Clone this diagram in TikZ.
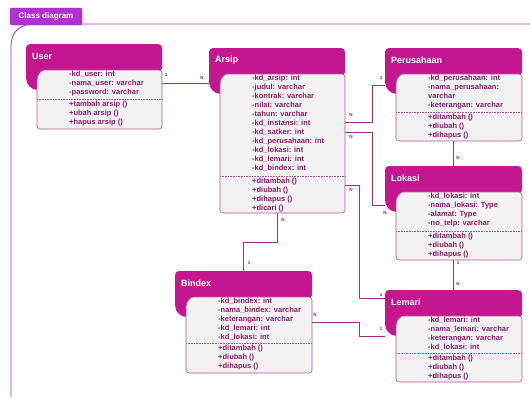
\documentclass[tikz,border=0pt]{standalone}
\usepackage{fontspec}
\setmainfont{Liberation Sans}
\usepackage{tikz}

\definecolor{framecol}{RGB}{155,48,192}
\definecolor{tabcol}{RGB}{178,47,210}
\definecolor{headcol}{RGB}{195,22,143}
\definecolor{bodycol}{RGB}{242,242,242}
\definecolor{edgecol}{RGB}{176,85,150}
\definecolor{txtcol}{RGB}{139,26,107}
\definecolor{linecol}{RGB}{165,45,135}

\tikzset{
  classhead/.style={fill=headcol},
  classbody/.style={fill=bodycol, draw=edgecol, line width=0.6pt},
  attrtext/.style={anchor=north west, inner sep=0pt, align=left, text=txtcol, font=\fontsize{7.5}{9}\selectfont\bfseries},
  titletext/.style={anchor=west, inner sep=0pt, text=white, font=\fontsize{9}{10}\selectfont\bfseries},
  tabtext/.style={inner sep=0pt, text=white, font=\fontsize{8}{9}\selectfont\bfseries},
  relline/.style={draw=linecol, line width=0.7pt},
  multlabel/.style={inner sep=0pt, text=txtcol, font=\fontsize{4.5}{5}\selectfont\bfseries},
}

% #1 name, #2 x0, #3 y0, #4 x1, #5 bottom, #6 separator, #7 title, #8 attributes, #9 methods
\newcommand{\umlclass}[9]{
  \node [minimum width={(#4-#2)*1pt}, minimum height={(#5-#3)*1pt}, inner sep=0pt, outer sep=0pt] (#1) at ({(#2+#4)/2},{(#3+#5)/2}) {};
  \fill [classhead, rounded corners=4pt] (#2,#3) rectangle (#4,#3+28);
  \fill [classhead, rounded corners=12pt] (#2,#3+10) rectangle (#2+26,#3+46);
  \filldraw [classbody, rounded corners=3pt] (#2+11,#3+36) -- (#2+11,#5) -- (#4,#5) -- (#4,#3+26) -- (#2+21,#3+26) .. controls (#2+15.5,#3+26) and (#2+11,#3+30.5) .. (#2+11,#3+36);
  \draw [edgecol, line width=0.5pt, dash pattern=on 0.8pt off 0.8pt] (#2+11,#6) -- (#4,#6);
  \node [titletext] (#1-title) at (#2+6,#3+12) {#7};
  \node [attrtext] (#1-attr) at (#2+43,#3+27) {#8};
  \node [attrtext] (#1-meth) at (#2+43,#6+1.5) {#9};
}

\begin{document}
\begin{tikzpicture}[x=1pt, y=-1pt]
    \useasboundingbox (0,0) rectangle (530,397);

    % frame
    \draw [framecol, line width=0.8pt] (11,397) -- (11,46) .. controls (11,32) and (20,24) .. (34,24) -- (530,24);
    \filldraw [fill=tabcol, draw=framecol, rounded corners=2pt] (10,8) rectangle (82,25);
    \node [tabtext] (tab) at (46,16.5) {Class diagram};

    % classes
    \umlclass{user}{26}{44}{162}{129}{99}{User}
      {-kd\_user: int\\-nama\_user: varchar\\-password: varchar}
      {+tambah arsip ()\\+ubah arsip ()\\+hapus arsip ()}
    \umlclass{arsip}{209}{48}{345}{213}{176}{Arsip}
      {-kd\_arsip: int\\-judul: varchar\\-kontrak: varchar\\-nilai: varchar\\-tahun: varchar\\-kd\_instansi: int\\-kd\_satker: int\\-kd\_perusahaan: int\\-kd\_lokasi: int\\-kd\_lemari: int\\-kd\_bindex: int}
      {+ditambah ()\\+diubah ()\\+dihapus ()\\+dicari ()}
    \umlclass{perusahaan}{385}{48}{522}{141}{112}{Perusahaan}
      {-kd\_perusahaan: int\\-nama\_perusahaan:\\varchar\\-keterangan: varchar}
      {+ditambah ()\\+diubah ()\\+dihapus ()}
    \umlclass{lokasi}{385}{166}{522}{260}{231}{Lokasi}
      {-kd\_lokasi: int\\-nama\_lokasi: Type\\-alamat: Type\\-no\_telp: varchar}
      {+ditambah ()\\+diubah ()\\+dihapus ()}
    \umlclass{lemari}{385}{290}{522}{382}{353}{Lemari}
      {-kd\_lemari: int\\-nama\_lemari: varchar\\-keterangan: varchar\\-kd\_lokasi: int}
      {+ditambah ()\\+diubah ()\\+dihapus ()}
    \umlclass{bindex}{175}{271}{312}{373}{343}{Bindex}
      {-kd\_bindex: int\\-nama\_bindex: varchar\\-keterangan: varchar\\-kd\_lemari: int\\-kd\_lokasi: int}
      {+ditambah ()\\+diubah ()\\+dihapus ()}

    % relations
    \draw [relline] ([yshift=-39pt]user.north east) -- ([yshift=-35pt]arsip.north west);
    \draw [relline] ([yshift=-74pt]arsip.north east) -- ++(27,0) |- ([yshift=-37pt]perusahaan.north west);
    \draw [relline] ([yshift=-84pt]arsip.north east) -- ++(27,0) |- ([yshift=-39pt]lokasi.north west);
    \draw [relline] (perusahaan.south) -- (lokasi.north);
    \draw [relline] (lokasi.south) -- (lemari.north);
    \draw [relline] (arsip.south) -- ++(0,29) -| (bindex.north);
    \draw [relline] ([yshift=-137pt]arsip.north east) -- ++(14,0) |- ([yshift=-8pt]lemari.north west);
    \draw [relline] ([yshift=-51pt]bindex.north east) -- ++(47,0) |- ([yshift=-46pt]lemari.north west);

    % multiplicities
    \node [multlabel] (m-ua) at (166,75) {1};
    \node [multlabel] (m-au) at (202,78) {N};
    \node [multlabel] (m-ap) at (351,115) {N};
    \node [multlabel] (m-pa) at (381,78) {1};
    \node [multlabel] (m-al) at (351,137) {N};
    \node [multlabel] (m-la) at (385,213) {N};
    \node [multlabel] (m-pl) at (458,158) {N};
    \node [multlabel] (m-lo) at (458,263) {1};
    \node [multlabel] (m-ol) at (458,284) {N};
    \node [multlabel] (m-ab) at (283,220) {N};
    \node [multlabel] (m-ba) at (249,263) {1};
    \node [multlabel] (m-am) at (351,190) {N};
    \node [multlabel] (m-ma) at (381,295) {1};
    \node [multlabel] (m-bm) at (315,315) {N};
    \node [multlabel] (m-mb) at (381,329) {1};
\end{tikzpicture}
\end{document}
